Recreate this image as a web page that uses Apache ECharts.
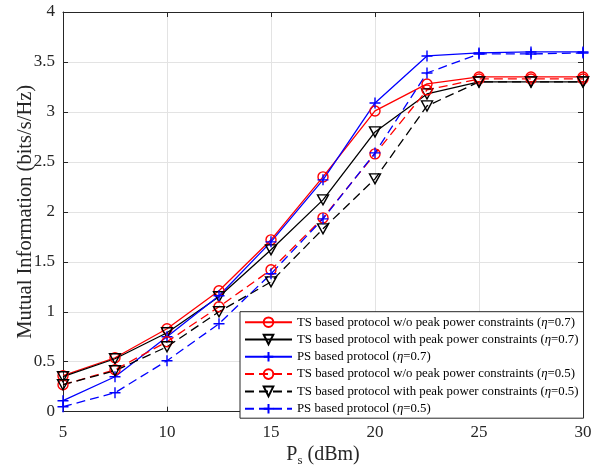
<!DOCTYPE html>
<html><head><meta charset="utf-8">
<script src="https://cdn.jsdelivr.net/npm/echarts@6/dist/echarts.min.js"></script>
<style>html,body{margin:0;padding:0;background:#fff}#c{width:592px;height:475px}</style>
</head><body><div id="c"></div>
<script>
const xValues = [5, 7.5, 10, 12.5, 15, 17.5, 20, 22.5, 25, 27.5, 30];
const tsNoPeak07 = [0.36, 0.54, 0.83, 1.21, 1.72, 2.35, 3.01, 3.28, 3.35, 3.35, 3.35];
const tsPeak07   = [0.35, 0.53, 0.79, 1.15, 1.62, 2.12, 2.80, 3.18, 3.30, 3.30, 3.30];
const ps07       = [0.11, 0.35, 0.75, 1.16, 1.70, 2.32, 3.09, 3.56, 3.59, 3.60, 3.60];
const tsNoPeak05 = [0.27, 0.42, 0.70, 1.05, 1.42, 1.94, 2.58, 3.22, 3.33, 3.33, 3.33];
const tsPeak05   = [0.27, 0.41, 0.65, 1.00, 1.30, 1.83, 2.33, 3.06, 3.30, 3.30, 3.30];
const ps05       = [0.05, 0.19, 0.51, 0.88, 1.38, 1.93, 2.59, 3.39, 3.58, 3.58, 3.59];
const seriesNames = [
  'TS based protocol w/o peak power constraints (η=0.7)',
  'TS based protocol with peak power constraints (η=0.7)',
  'PS based protocol (η=0.7)',
  'TS based protocol w/o peak power constraints (η=0.5)',
  'TS based protocol with peak power constraints (η=0.5)',
  'PS based protocol (η=0.5)'
];
const seriesData = [tsNoPeak07, tsPeak07, ps07, tsNoPeak05, tsPeak05, ps05];
const colors = ['#ff0000', '#000000', '#0000ff', '#ff0000', '#000000', '#0000ff'];
const dashed = [false, false, false, true, true, true];
const symbols = ['circle', 'path://M-1,-0.9 L1,-0.9 L0,1 Z', 'path://M0,-1 L0,1 M-1,0 L1,0',
                 'circle', 'path://M-1,-0.9 L1,-0.9 L0,1 Z', 'path://M0,-1 L0,1 M-1,0 L1,0'];
const symSizes = [10, [11, 10], 11, 10, [11, 10], 11];

const FONT = '"Liberation Serif", "Times New Roman", serif';
const AX = '#262626';

const series = seriesNames.map((n, i) => ({
  name: n,
  type: 'line',
  data: xValues.map((x, j) => [x, seriesData[i][j]]),
  symbol: symbols[i],
  symbolSize: symSizes[i],
  showAllSymbol: true,
  lineStyle: { color: colors[i], width: 1.3, type: dashed[i] ? [9, 5] : 'solid' },
  itemStyle: { color: 'rgba(0,0,0,0)', borderColor: colors[i], borderWidth: 1.4 },
  emphasis: { disabled: true },
  animation: false,
  z: 2
}));

const chart = echarts.init(document.getElementById('c'), null, { renderer: 'canvas' });
chart.setOption({
  animation: false,
  backgroundColor: '#fff',
  grid: { left: 63, right: 9, top: 12, bottom: 63.3, containLabel: false, outerBoundsMode: 'none' },
  xAxis: [{
    type: 'value', min: 5, max: 30, interval: 5,
    name: 'P{sub|s} (dBm)', nameLocation: 'middle', nameGap: 31, nameMoveOverlap: false,
    nameTextStyle: { fontFamily: FONT, fontSize: 20, color: AX,
      rich: { sub: { fontFamily: FONT, fontSize: 13, color: AX, padding: [11, 0, 0, 0] } } },
    axisLine: { show: true, onZero: false, lineStyle: { color: AX, width: 1 } },
    axisTick: { show: true, inside: true, length: 5, lineStyle: { color: AX } },
    axisLabel: { fontFamily: FONT, fontSize: 17, color: AX, margin: 12 },
    splitLine: { show: true, lineStyle: { color: '#e3e3e3', width: 1 } }
  }, {
    type: 'value', min: 5, max: 30, interval: 5, position: 'top',
    axisLine: { show: true, onZero: false, lineStyle: { color: AX, width: 1 } },
    axisTick: { show: true, inside: true, length: 5, lineStyle: { color: AX } },
    axisLabel: { show: false }, splitLine: { show: false }
  }],
  yAxis: [{
    type: 'value', min: 0, max: 4, interval: 0.5,
    name: 'Mutual Information (bits/s/Hz)', nameLocation: 'middle', nameGap: 27, nameMoveOverlap: false,
    nameTextStyle: { fontFamily: FONT, fontSize: 20.5, color: AX },
    axisLine: { show: true, onZero: false, lineStyle: { color: AX, width: 1 } },
    axisTick: { show: true, inside: true, length: 5, lineStyle: { color: AX } },
    axisLabel: { fontFamily: FONT, fontSize: 17, color: AX, margin: 8 },
    splitLine: { show: true, lineStyle: { color: '#e3e3e3', width: 1 } }
  }, {
    type: 'value', min: 0, max: 4, interval: 0.5, position: 'right',
    axisLine: { show: true, onZero: false, lineStyle: { color: AX, width: 1 } },
    axisTick: { show: true, inside: true, length: 5, lineStyle: { color: AX } },
    axisLabel: { show: false }, splitLine: { show: false }
  }],
  legend: {
    data: seriesNames,
    orient: 'vertical',
    left: 240, top: 311.7,
    padding: [4, 5, 3, 4],
    itemWidth: 47, itemHeight: 12, itemGap: 4.3,
    backgroundColor: '#fff',
    borderColor: AX, borderWidth: 1, borderRadius: 0,
    selectedMode: false,
    textStyle: { fontFamily: FONT, fontSize: 12.8, color: '#000', lineHeight: 12,
      rich: { i: { fontFamily: FONT, fontStyle: 'italic', fontSize: 12.8, color: '#000', lineHeight: 12 } } },
    formatter: n => n.replace('η', '{i|η}'),
    z: 10
  },
  series: series
});
</script></body></html>
